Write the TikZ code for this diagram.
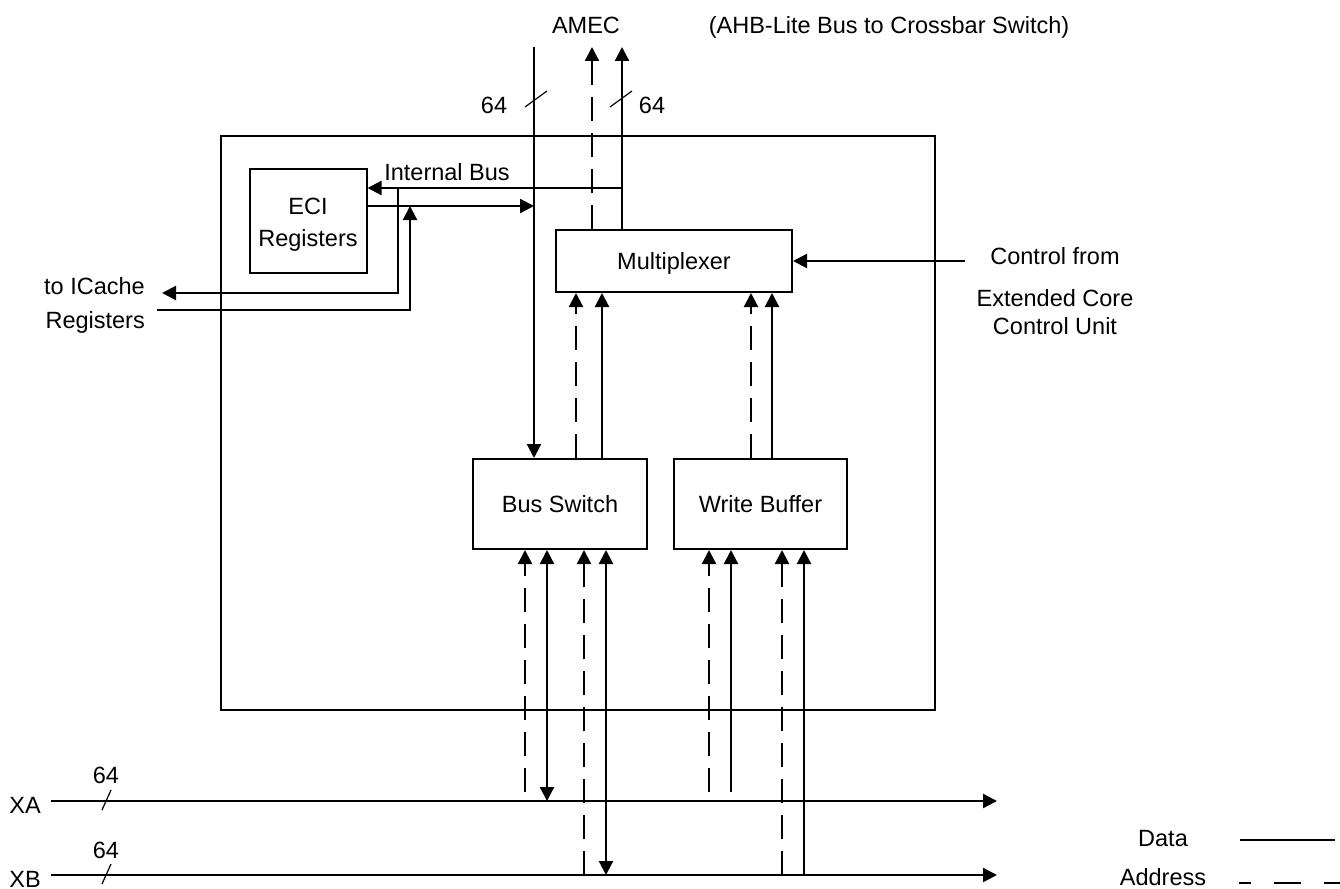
\documentclass[tikz,border=0pt]{standalone}
\usepackage{fontspec}
\setmainfont{Liberation Sans}
\usetikzlibrary{arrows.meta}

\begin{document}
\begin{tikzpicture}[x=1pt,y=-1pt,
  lbl/.style={font=\fontsize{23.5}{28}\selectfont, inner sep=0pt, text height=16.8pt, text depth=0pt},
  blk/.style={draw, line width=2pt, inner sep=0pt, font=\fontsize{23.5}{28}\selectfont, text height=16.8pt, text depth=0pt},
  bus/.style={line width=2.2pt},
  addr/.style={line width=2.2pt, dash pattern=on 24pt off 12pt},
  tip/.style={-{Triangle[length=14pt,width=14pt]}},
  tips/.style={{Triangle[length=14pt,width=14pt]}-{Triangle[length=14pt,width=14pt]}},
  slash/.style={line width=1.2pt}]

\useasboundingbox (0,0) rectangle (1340,888);

% blocks
\node[blk, minimum width=714pt, minimum height=574pt] (core) at (578,423) {};
\node[blk, minimum width=117pt, minimum height=104pt] (eci) at (308,221) {};
\node[inner sep=0pt, align=center, font=\fontsize{23.5}{32}\selectfont] (ecitxt) at ([yshift=-4pt]eci.center) {ECI\\Registers};
\node[blk, minimum width=236pt, minimum height=62pt] (mux) at (674,261) {Multiplexer};
\node[blk, minimum width=174pt, minimum height=90pt] (bsw) at (560,504) {Bus Switch};
\node[blk, minimum width=173pt, minimum height=90pt] (wbuf) at (760.5,504) {Write Buffer};

% vertical channels
\coordinate (xin) at (534,0);
\coordinate (xad) at (592,0);
\coordinate (xdo) at (622,0);
\coordinate (xl1) at (398,0);
\coordinate (xl2) at (410,0);
\coordinate (xm1) at (576,0);
\coordinate (xm2) at (602,0);
\coordinate (xm3) at (751,0);
\coordinate (xm4) at (772,0);
\coordinate (xb1) at (525,0);
\coordinate (xb2) at (547,0);
\coordinate (xb3) at (584,0);
\coordinate (xb4) at (606,0);
\coordinate (xb5) at (709,0);
\coordinate (xb6) at (731,0);
\coordinate (xb7) at (782,0);
\coordinate (xb8) at (804,0);

% horizontal levels
\coordinate (top) at (0,47);
\coordinate (ib) at (0,188);
\coordinate (ob) at (0,206);
\coordinate (ic1) at (0,293);
\coordinate (ic2) at (0,310);
\coordinate (stub) at (0,792);
\coordinate (icL) at (162,0);
\coordinate (icR) at (157,0);
\coordinate (ctl) at (965,261);

% external buses
\coordinate (xaS) at (51,801);
\coordinate (xaE) at (997,801);
\coordinate (xbS) at (51,875);
\coordinate (xbE) at (997,875);
\draw[bus,tip] (xaS) -- (xaE);
\draw[bus,tip] (xbS) -- (xbE);
\draw[slash] (102,810) -- (111,790);
\draw[slash] (102,884) -- (111,864);

% AMEC connections
\draw[bus,tip] (xin |- top) -- (xin |- bsw.north);
\draw[addr,tip] (xad |- mux.north) -- (xad |- top);
\draw[bus,tip] (xdo |- mux.north) -- (xdo |- top);
\draw[slash] (525,107) -- (547,91);
\draw[slash] (610,107) -- (632,91);

% internal bus and ECI registers
\draw[bus,tip] (xdo |- ib) -- (eci.east |- ib);
\draw[bus,tip] (eci.east |- ob) -- (xin |- ob);
\draw[bus,tip] (xl1 |- ib) -- (xl1 |- ic1) -- (icL |- ic1);
\draw[bus,tip] (icR |- ic2) -- (xl2 |- ic2) -- (xl2 |- ob);

% control input
\draw[bus,tip] (ctl) -- (mux.east);

% into multiplexer
\draw[addr,tip] (xm1 |- bsw.north) -- (xm1 |- mux.south);
\draw[bus,tip] (xm2 |- bsw.north) -- (xm2 |- mux.south);
\draw[addr,tip] (xm3 |- wbuf.north) -- (xm3 |- mux.south);
\draw[bus,tip] (xm4 |- wbuf.north) -- (xm4 |- mux.south);

% bus switch to XA / XB
\draw[addr,tip] (xb1 |- stub) -- (xb1 |- bsw.south);
\draw[bus,tips] (xb2 |- xaS) -- (xb2 |- bsw.south);
\draw[addr,tip] (xb3 |- xbS) -- (xb3 |- bsw.south);
\draw[bus,tips] (xb4 |- xbS) -- (xb4 |- bsw.south);

% write buffer from XA / XB
\draw[addr,tip] (xb5 |- stub) -- (xb5 |- wbuf.south);
\draw[bus,tip] (xb6 |- stub) -- (xb6 |- wbuf.south);
\draw[addr,tip] (xb7 |- xbS) -- (xb7 |- wbuf.south);
\draw[bus,tip] (xb8 |- xbS) -- (xb8 |- wbuf.south);

% labels
\node[lbl] (amec) at (586,25) {AMEC};
\node[lbl] (ahb) at (889,25) {(AHB-Lite Bus to Crossbar Switch)};
\node[lbl] (w1) at (494,105) {64};
\node[lbl] (w2) at (652,105) {64};
\node[lbl] (ibl) at (447,172) {Internal Bus};
\node[lbl, anchor=east] (ica) at (145,286) {to ICache};
\node[lbl, anchor=east] (icb) at (145,320) {Registers};
\node[lbl] (c1) at (1055,256) {Control from};
\node[lbl] (c2) at (1055,298) {Extended Core};
\node[lbl] (c3) at (1055,326) {Control Unit};
\node[lbl] (xal) at (25,805) {XA};
\node[lbl] (xbl) at (25,879) {XB};
\node[lbl] (w3) at (106,775) {64};
\node[lbl] (w4) at (106,850) {64};

% legend
\node[lbl] (ldata) at (1163,838) {Data};
\node[lbl] (laddr) at (1163,877) {Address};
\coordinate (ld1) at (1240,840);
\coordinate (ld2) at (1335,840);
\coordinate (la1) at (1239,883);
\coordinate (la2) at (1340,883);
\draw[bus] (ld1) -- (ld2);
\draw[line width=2.2pt, dash pattern=on 27pt off 23pt, dash phase=15pt] (la1) -- (la2);
\end{tikzpicture}
\end{document}
